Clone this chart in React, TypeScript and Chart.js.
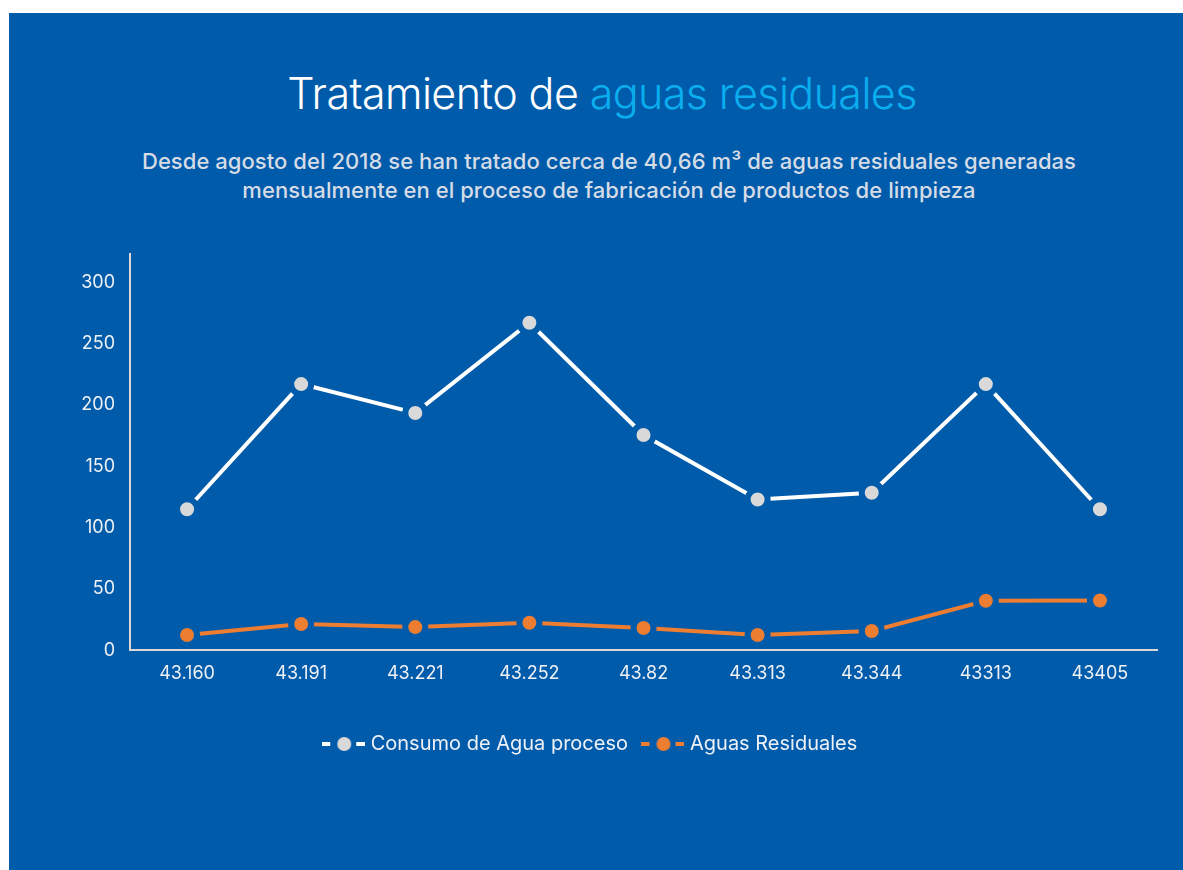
import React, { useEffect, useRef } from "react";
import { Chart, registerables } from "chart.js";

Chart.register(...registerables);

const categories = ["43.160", "43.191", "43.221", "43.252", "43.82", "43.313", "43.344", "43313", "43405"];
const consumoAgua = [115, 217, 193.5, 267, 175.5, 123, 128.5, 217, 115];
const aguasResiduales = [12.5, 21.5, 19, 22.5, 18.3, 12.5, 15.8, 40.5, 40.7];
const yTicks = [0, 50, 100, 150, 200, 250, 300];
const seriesNames = ["Consumo de Agua proceso", "Aguas Residuales"];

const BG = "#005BAA";
const WHITE = "#FFFFFF";
const GREY = "#D9D9D9";
const ORANGE = "#ED7D31";
const TEXT = "#EEF1F6";
const FONT = "Inter, 'Noto Sans', sans-serif";

function legendIcon(lineColor: string, dotColor: string): HTMLCanvasElement {
  const c = document.createElement("canvas");
  c.width = 43;
  c.height = 16;
  const ctx = c.getContext("2d")!;
  ctx.fillStyle = lineColor;
  ctx.fillRect(0, 6, 8, 4);
  ctx.fillRect(34, 6, 9, 4);
  ctx.beginPath();
  ctx.arc(22, 8, 7, 0, Math.PI * 2);
  ctx.fillStyle = dotColor;
  ctx.fill();
  return c;
}

export default function App() {
  const ref = useRef<HTMLCanvasElement>(null);

  useEffect(() => {
    if (!ref.current) return;
    const icons = [legendIcon(WHITE, GREY), legendIcon(ORANGE, ORANGE)];
    const chart = new Chart(ref.current, {
      type: "line",
      data: {
        labels: categories,
        datasets: [
          {
            label: seriesNames[0],
            data: consumoAgua,
            borderColor: WHITE,
            borderWidth: 4,
            pointRadius: 10,
            pointHoverRadius: 10,
            pointBackgroundColor: GREY,
            pointBorderColor: BG,
            pointBorderWidth: 6,
            tension: 0,
          },
          {
            label: seriesNames[1],
            data: aguasResiduales,
            borderColor: ORANGE,
            borderWidth: 4,
            pointRadius: 10,
            pointHoverRadius: 10,
            pointBackgroundColor: ORANGE,
            pointBorderColor: BG,
            pointBorderWidth: 6,
            tension: 0,
          },
        ],
      },
      options: {
        responsive: false,
        animation: false,
        layout: { padding: { top: 241, left: 18, right: 26, bottom: 106 } },
        plugins: {
          title: { display: false },
          tooltip: { enabled: false },
          legend: {
            position: "bottom",
            labels: {
              usePointStyle: true,
              pointStyleWidth: 34,
              padding: 18,
              color: TEXT,
              font: { family: FONT, size: 20 },
              generateLabels: (ch: any) =>
                ch.data.datasets.map((ds: any, i: number) => ({
                  text: ds.label,
                  pointStyle: icons[i],
                  fillStyle: "transparent",
                  strokeStyle: "transparent",
                  lineWidth: 0,
                  fontColor: TEXT,
                  datasetIndex: i,
                  hidden: false,
                })),
            },
          },
        },
        scales: {
          x: {
            offset: true,
            grid: { display: false, drawTicks: false },
            border: { display: true, color: GREY, width: 2 },
            ticks: { color: TEXT, font: { family: FONT, size: 18 }, padding: 12, maxRotation: 0 },
            afterFit: (s: any) => {
              s.height += 20;
            },
          },
          y: {
            min: 0,
            max: 323,
            grid: { display: false, drawTicks: false },
            border: { display: true, color: GREY, width: 2 },
            ticks: { color: TEXT, font: { family: FONT, size: 18 }, padding: 15 },
            afterBuildTicks: (s: any) => {
              s.ticks = yTicks.map((v) => ({ value: v }));
            },
            afterFit: (s: any) => {
              s.width = 103;
            },
          },
        },
      },
    });
    return () => chart.destroy();
  }, []);

  return (
    <div
      style={{
        position: "fixed",
        left: 9,
        top: 13,
        width: 1174,
        height: 857,
        background: BG,
        overflow: "hidden",
      }}
    >
      <div
        style={{
          position: "absolute",
          top: 59,
          left: 6,
          width: 1174,
          textAlign: "center",
          fontFamily: FONT,
          fontWeight: 300,
          fontSize: 43,
          lineHeight: "42px",
          letterSpacing: "-0.6px",
          color: WHITE,
          whiteSpace: "nowrap",
        }}
      >
        Tratamiento de <span style={{ color: "#0AAEEF" }}>aguas residuales</span>
      </div>
      <div
        style={{
          position: "absolute",
          top: 134,
          left: 13,
          width: 1174,
          textAlign: "center",
          fontFamily: FONT,
          fontWeight: 500,
          fontSize: 22,
          lineHeight: "29px",
          letterSpacing: "0.05px",
          color: "#D6DCE6",
        }}
      >
        Desde agosto del 2018 se han tratado cerca de 40,66 m³ de aguas residuales generadas
        <br />
        mensualmente en el proceso de fabricación de productos de limpieza
      </div>
      <canvas
        ref={ref}
        width={1174}
        height={857}
        style={{ position: "absolute", left: 0, top: 0, width: 1174, height: 857 }}
      />
    </div>
  );
}
